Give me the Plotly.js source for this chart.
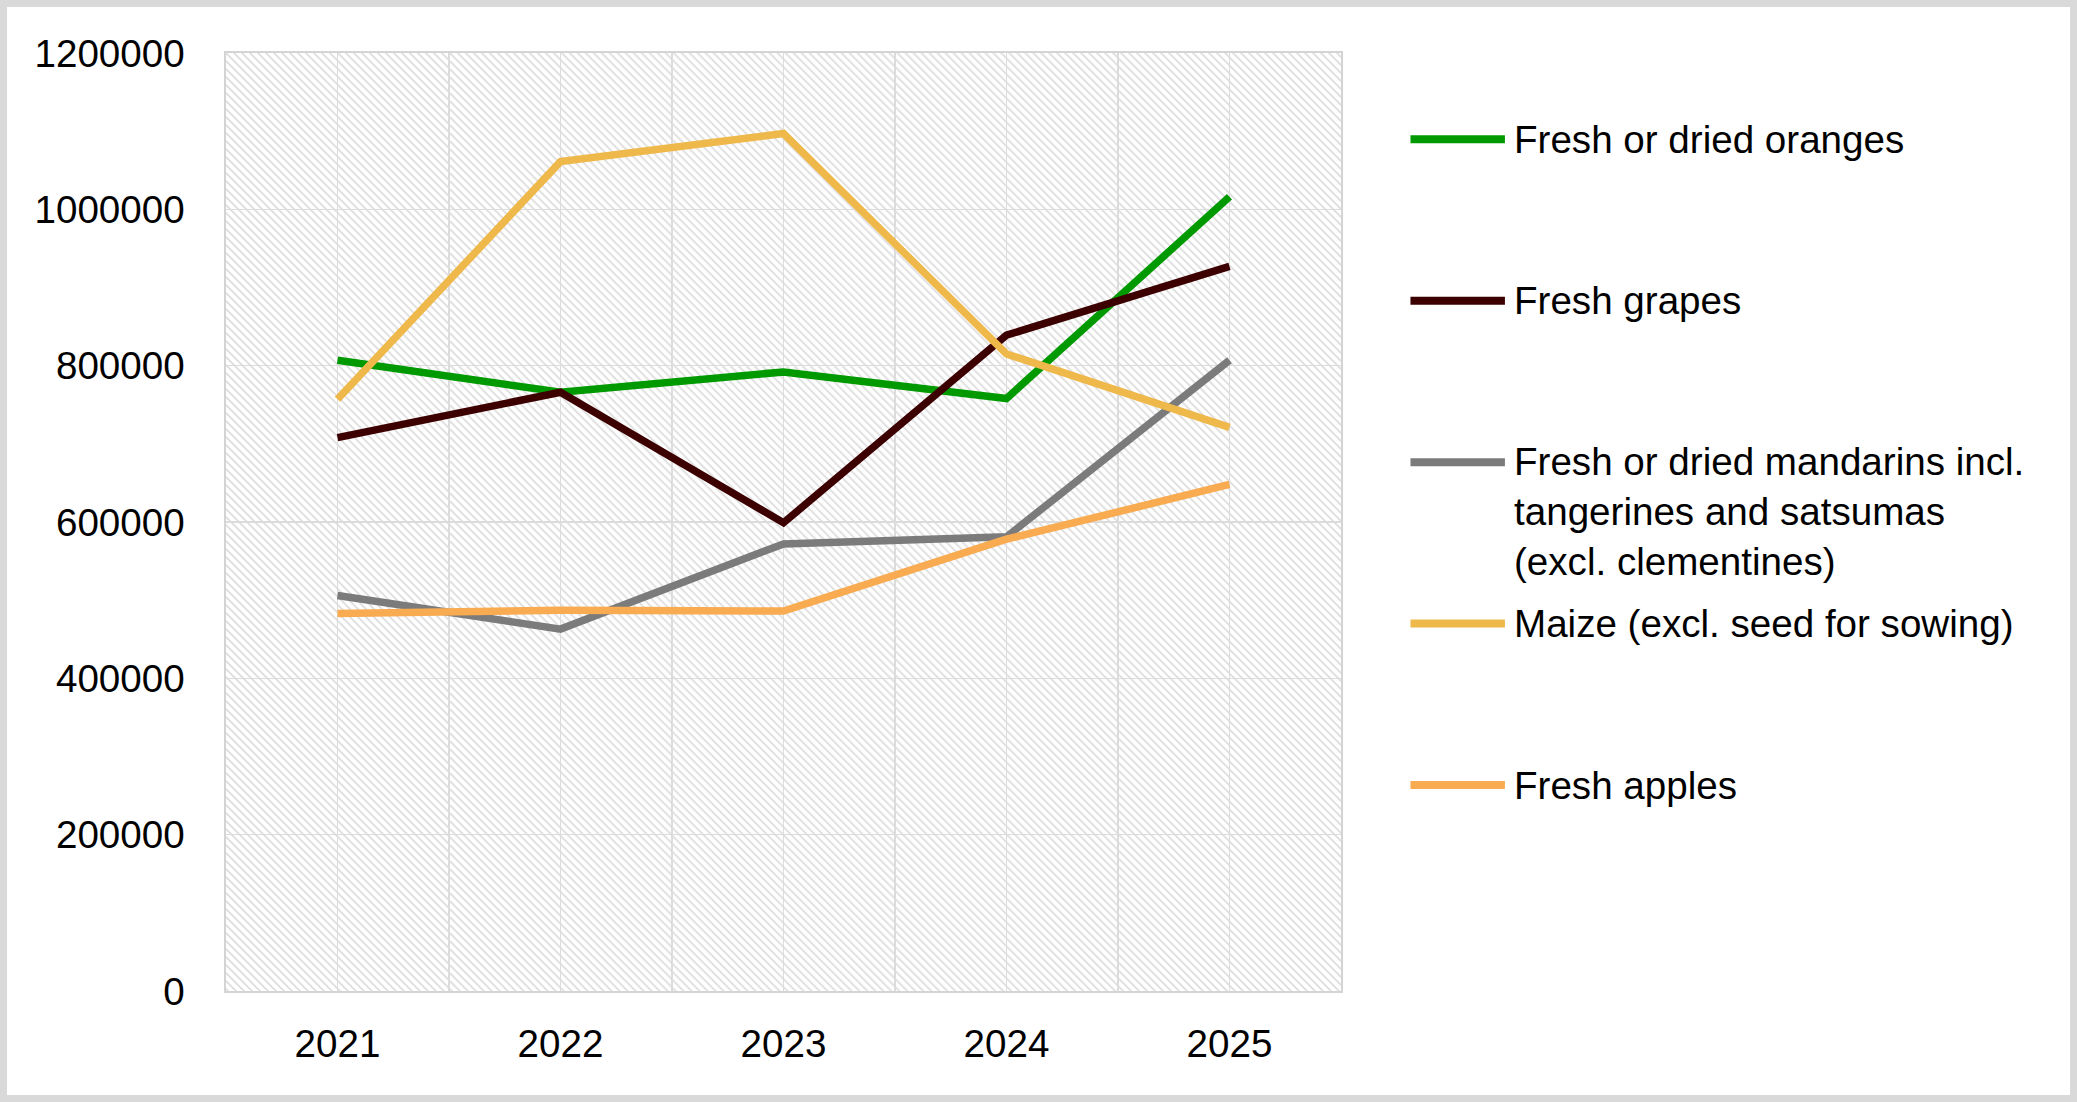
<!DOCTYPE html>
<html>
<head>
<meta charset="utf-8">
<script src="https://cdn.plot.ly/plotly-3.0.1.min.js"></script>
<style>
  html, body { margin: 0; padding: 0; width: 2077px; height: 1102px; overflow: hidden; background: #d9d9d9; }
  #chart { position: absolute; left: 7px; top: 7px; width: 2063px; height: 1088px; background: #ffffff; }
</style>
</head>
<body>
<div id="chart"></div>
<script>
// ---- data ----
const years = [2021, 2022, 2023, 2024, 2025];
const yearLabels = ["2021", "2022", "2023", "2024", "2025"];
const seriesNames = [
  "Fresh or dried oranges",
  "Fresh grapes",
  "Fresh or dried mandarins incl. tangerines and satsumas (excl. clementines)",
  "Maize (excl. seed for sowing)",
  "Fresh apples"
];
const legendLabels = [
  "Fresh or dried oranges",
  "Fresh grapes",
  "Fresh or dried mandarins incl.<br>tangerines and satsumas<br>(excl. clementines)",
  "Maize (excl. seed for sowing)",
  "Fresh apples"
];
const oranges   = [807000, 766000, 792000, 758000, 1016000];
const grapes    = [708000, 766000, 599000, 839000, 927000];
const mandarins = [506000, 463000, 572000, 581000, 807000];
const maize     = [757000, 1061000, 1097000, 815000, 721000];
const apples    = [483000, 487000, 486000, 578000, 648000];
const yTicks    = [0, 200000, 400000, 600000, 800000, 1000000, 1200000];

// ---- styles ----
const colors = ["#009a00", "#3c0000", "#7b7b7b", "#efb84b", "#f9ab52"];
const seriesValues = [oranges, grapes, mandarins, maize, apples];
const FONT = "Liberation Sans, Arial, sans-serif";
const FS = 38.6;
const GRID = "#dcdcdc";

const DIV_W = 2063, DIV_H = 1088, FRAME = 7;
const M = { l: 218.5, r: 729, t: 45.7, b: 104, pad: 0 };
const PW = DIV_W - M.l - M.r;
const PH = DIV_H - M.t - M.b;
function pxX(px) { return (px - FRAME - M.l) / PW; }
function pxY(py) { return (DIV_H - M.b - (py - FRAME)) / PH; }

// hatch background (plot area)
const svg = "<svg xmlns='http://www.w3.org/2000/svg' width='" + Math.round(PW) + "' height='" + Math.round(PH) + "'>" +
  "<defs><pattern id='p' width='8' height='8' patternUnits='userSpaceOnUse'>" +
  "<rect width='8' height='8' fill='#ffffff'/>" +
  "<path d='M-2,-2 L10,10 M-2,6 L2,10 M6,-2 L10,2' stroke='#dedede' stroke-width='1.8'/>" +
  "</pattern></defs><rect width='100%' height='100%' fill='url(#p)'/></svg>";
const bgSrc = "data:image/svg+xml;charset=utf-8," + encodeURIComponent(svg);

const traces = seriesValues.map((vals, i) => ({
  type: "scatter",
  mode: "lines",
  x: years,
  y: vals,
  name: seriesNames[i],
  line: { color: colors[i], width: 7.5 },
  showlegend: false,
  hoverinfo: "x+y+name"
}));

// custom legend (Excel style: long line + text, evenly spaced slots)
const legendY = [139, 300.5, 462, 623.5, 785];
const LINE_SPACING = 49.5;
const shapes = [];
const annotations = [];
legendLabels.forEach((lab, i) => {
  shapes.push({
    type: "line", xref: "paper", yref: "paper",
    x0: pxX(1410.5), x1: pxX(1505), y0: pxY(legendY[i]), y1: pxY(legendY[i]),
    line: { color: colors[i], width: 8 }
  });
  const nLines = lab.split("<br>").length;
  const cy = legendY[i] + (nLines - 1) * LINE_SPACING / 2;
  annotations.push({
    xref: "paper", yref: "paper", x: pxX(1512), y: pxY(cy),
    xanchor: "left", yanchor: "middle", align: "left",
    showarrow: false, text: lab,
    font: { family: FONT, size: FS, color: "#000000" }
  });
});

const layout = {
  width: DIV_W, height: DIV_H,
  margin: M,
  paper_bgcolor: "#ffffff",
  plot_bgcolor: "#ffffff",
  showlegend: false,
  font: { family: FONT, size: FS, color: "#000000" },
  xaxis: {
    type: "linear",
    range: [years[0] - 0.5, years[years.length - 1] + 0.5],
    tickmode: "array", tickvals: years, ticktext: yearLabels,
    showgrid: true, gridcolor: GRID, gridwidth: 1.6,
    minor: {
      tickmode: "array",
      tickvals: years.slice(0, -1).map(v => v + 0.5),
      showgrid: true, gridcolor: GRID, gridwidth: 1.6, ticks: ""
    },
    zeroline: false,
    showline: true, mirror: true, linecolor: "#d4d4d4", linewidth: 1.6,
    ticks: "", ticklabelstandoff: 18,
    tickfont: { family: FONT, size: FS, color: "#000000" },
    automargin: false, fixedrange: true
  },
  yaxis: {
    range: [0, 1200000],
    tickmode: "array", tickvals: yTicks, tickformat: "d",
    showgrid: true, gridcolor: GRID, gridwidth: 1.6,
    zeroline: false,
    showline: true, mirror: true, linecolor: "#d4d4d4", linewidth: 1.6,
    ticks: "", ticklabelstandoff: 32,
    tickfont: { family: FONT, size: FS, color: "#000000" },
    automargin: false, fixedrange: true
  },
  images: [{
    source: bgSrc, xref: "paper", yref: "paper",
    x: 0, y: 1, sizex: 1, sizey: 1, xanchor: "left", yanchor: "top",
    sizing: "stretch", layer: "below"
  }],
  shapes: shapes,
  annotations: annotations
};

Plotly.newPlot("chart", traces, layout, { staticPlot: true, displayModeBar: false });
</script>
</body>
</html>
